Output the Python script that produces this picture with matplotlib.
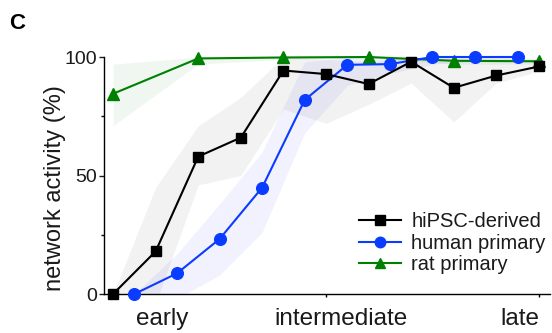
import numpy as np
import matplotlib
matplotlib.use("Agg")
import matplotlib.pyplot as plt
from matplotlib.transforms import blended_transform_factory

plt.rcParams["font.family"] = ["Liberation Sans", "DejaVu Sans"]

# time points (arbitrary culture stage index)
x_hipsc = [0, 1, 2, 3, 4, 5, 6, 7, 8, 9, 10]
x_human = [0.5, 1.5, 2.5, 3.5, 4.5, 5.5, 6.5, 7.5, 8.5, 9.5]
x_rat = [0, 2, 4, 6, 8, 10]

hipsc_mean = [0, 18, 58, 66, 94.3, 92.8, 88.6, 98, 87, 92.2, 96]
hipsc_lo = [0, -4, 46, 50, 78, 72, 80, 89, 72.6, 89, 94]
hipsc_hi = [0, 45, 71, 83, 100, 99, 98, 100, 99, 99, 99]

human_mean = [0, 8.7, 23.2, 44.9, 81.9, 96.7, 97, 100, 100, 100]
human_lo = [0, -2, 8, 26, 68, 88, 93, 97, 98, 98]
human_hi = [0, 17, 38, 60, 98, 100, 100, 100, 100, 100]

rat_mean = [84.5, 99.4, 99.8, 100, 98.4, 98.2]
rat_lo = [71, 97, 99, 99.5, 97, 97]
rat_hi = [97, 100, 100, 100, 99.5, 99.5]

stage_labels = ["early", "intermediate", "late"]
stage_pos = [1.15, 5.35, 9.55]

TEXT = "#1a1a1a"
BLUE = "#0a3cff"
GREEN = "#008000"

fig = plt.figure(figsize=(5.52, 3.33), dpi=100)
ax = fig.add_axes([0.1879, 0.1171, 0.8085, 0.7117])

ax.fill_between(x_hipsc, hipsc_lo, hipsc_hi, color="black", alpha=0.05, lw=0)
ax.fill_between(x_human, human_lo, human_hi, color="blue", alpha=0.05, lw=0)
ax.fill_between(x_rat, rat_lo, rat_hi, color=GREEN, alpha=0.06, lw=0)

ax.plot(x_rat, rat_mean, "-^", color=GREEN, lw=1.5, ms=8.4, clip_on=False,
        zorder=3, label="rat primary")
ax.plot(x_human, human_mean, "-o", color=BLUE, lw=1.5, ms=8.4, clip_on=False,
        zorder=4, label="human primary")
ax.plot(x_hipsc, hipsc_mean, "-s", color="black", lw=1.5, ms=7.6, clip_on=False,
        zorder=5, label="hiPSC-derived")

ax.set_xlim(-0.22, 10.26)
ax.set_ylim(0, 100)
for s in ("top", "right"):
    ax.spines[s].set_visible(False)
for s in ("left", "bottom"):
    ax.spines[s].set_linewidth(1.0)

ax.set_yticks([0, 50, 100])
ax.set_yticks([25, 75], minor=True)
ax.tick_params(axis="y", which="major", length=3.6, width=1.0, pad=1.5,
               labelsize=14, colors=TEXT)
ax.tick_params(axis="y", which="minor", length=2.5, width=1.0)
ax.set_xticks([5, 10])
ax.set_xticklabels([])
ax.tick_params(axis="x", length=2.2, width=1.0)

tr = blended_transform_factory(ax.transData, ax.transAxes)
for pos, lab in zip(stage_pos, stage_labels):
    ax.text(pos, -0.105, lab, transform=tr, ha="center", va="center",
            fontsize=17.5, color=TEXT)

ax.set_ylabel("network activity (%)", fontsize=17, color=TEXT)
ax.yaxis.set_label_coords(-0.085, 0.445)

handles, labels = ax.get_legend_handles_labels()
ax.legend(handles[::-1], labels[::-1], loc="center left",
          bbox_to_anchor=(0.572, 0.215), frameon=False, fontsize=14.5,
          handlelength=2.09, handletextpad=0.5, labelspacing=0.12,
          borderpad=0, borderaxespad=0, markerscale=0.9, labelcolor=TEXT)

fig.text(9 / 552, 1 - 29 / 333, "C", fontsize=16, fontweight="bold",
         color="black", va="baseline")

fig.savefig("out.png", dpi=100)
